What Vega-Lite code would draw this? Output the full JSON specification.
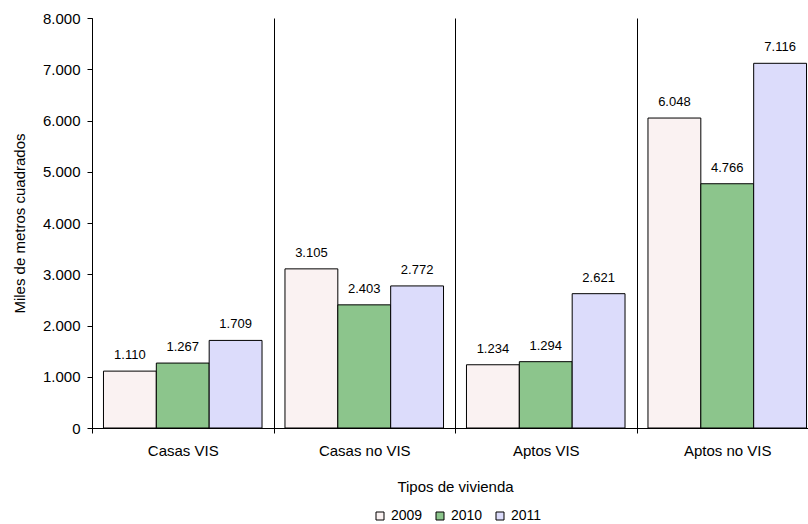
{
  "$schema": "https://vega.github.io/schema/vega-lite/v6.json",
  "width": 726,
  "height": 410,
  "autosize": {"type": "none"},
  "padding": {"left": 92, "top": 18, "right": 0, "bottom": 96},
  "background": "white",
  "config": {
    "locale": {"number": {"decimal": ",", "thousands": ".", "grouping": [3], "currency": ["", ""]}},
    "font": "Liberation Sans",
    "view": {"stroke": null},
    "axis": {"labelFont": "Liberation Sans", "titleFont": "Liberation Sans", "labelColor": "black", "titleColor": "black", "titleFontWeight": "normal", "domainColor": "black", "tickColor": "black"}
  },
  "data": {
    "values": [
      {"tipo": "Casas VIS", "year": "2009", "value": 1110},
      {"tipo": "Casas VIS", "year": "2010", "value": 1267},
      {"tipo": "Casas VIS", "year": "2011", "value": 1709},
      {"tipo": "Casas no VIS", "year": "2009", "value": 3105},
      {"tipo": "Casas no VIS", "year": "2010", "value": 2403},
      {"tipo": "Casas no VIS", "year": "2011", "value": 2772},
      {"tipo": "Aptos VIS", "year": "2009", "value": 1234},
      {"tipo": "Aptos VIS", "year": "2010", "value": 1294},
      {"tipo": "Aptos VIS", "year": "2011", "value": 2621},
      {"tipo": "Aptos no VIS", "year": "2009", "value": 6048},
      {"tipo": "Aptos no VIS", "year": "2010", "value": 4766},
      {"tipo": "Aptos no VIS", "year": "2011", "value": 7116}
    ]
  },
  "encoding": {
    "x": {
      "field": "tipo", "type": "nominal", "sort": null,
      "scale": {"paddingInner": 0, "paddingOuter": 0},
      "axis": {"title": "Tipos de vivienda", "labelAngle": 0, "labelFontSize": 15, "titleFontSize": 15, "tickBand": "extent", "grid": true, "gridColor": "black", "gridOpacity": 1, "tickSize": 5, "labelPadding": 10, "titlePadding": 21}
    },
    "xOffset": {"field": "year", "type": "nominal", "scale": {"paddingInner": 0, "paddingOuter": 0.217}},
    "y": {
      "field": "value", "type": "quantitative",
      "scale": {"domain": [0, 8000]},
      "axis": {"title": "Miles de metros cuadrados", "format": ",d", "grid": false, "tickCount": 8, "labelFontSize": 15, "titleFontSize": 15, "tickSize": 5, "labelPadding": 7, "titlePadding": 15}
    }
  },
  "layer": [
    {
      "mark": {"type": "bar", "stroke": "black", "strokeWidth": 1},
      "encoding": {
        "fill": {
          "field": "year", "type": "nominal",
          "scale": {"domain": ["2009", "2010", "2011"], "range": ["#faf2f2", "#8cc58c", "#dcdcfb"]},
          "legend": {"title": null, "orient": "none", "legendX": 281, "legendY": 491, "padding": 0, "direction": "horizontal", "symbolType": "square", "symbolSize": 64, "symbolStrokeColor": "black", "symbolStrokeWidth": 1, "labelFont": "Liberation Sans", "labelFontSize": 14, "labelColor": "black", "columnPadding": 10, "labelOffset": 4}
        }
      }
    },
    {
      "mark": {"type": "text", "baseline": "bottom", "dy": -9, "fontSize": 13, "color": "black"},
      "encoding": {"text": {"field": "value", "type": "quantitative", "format": ",d"}}
    }
  ]
}
